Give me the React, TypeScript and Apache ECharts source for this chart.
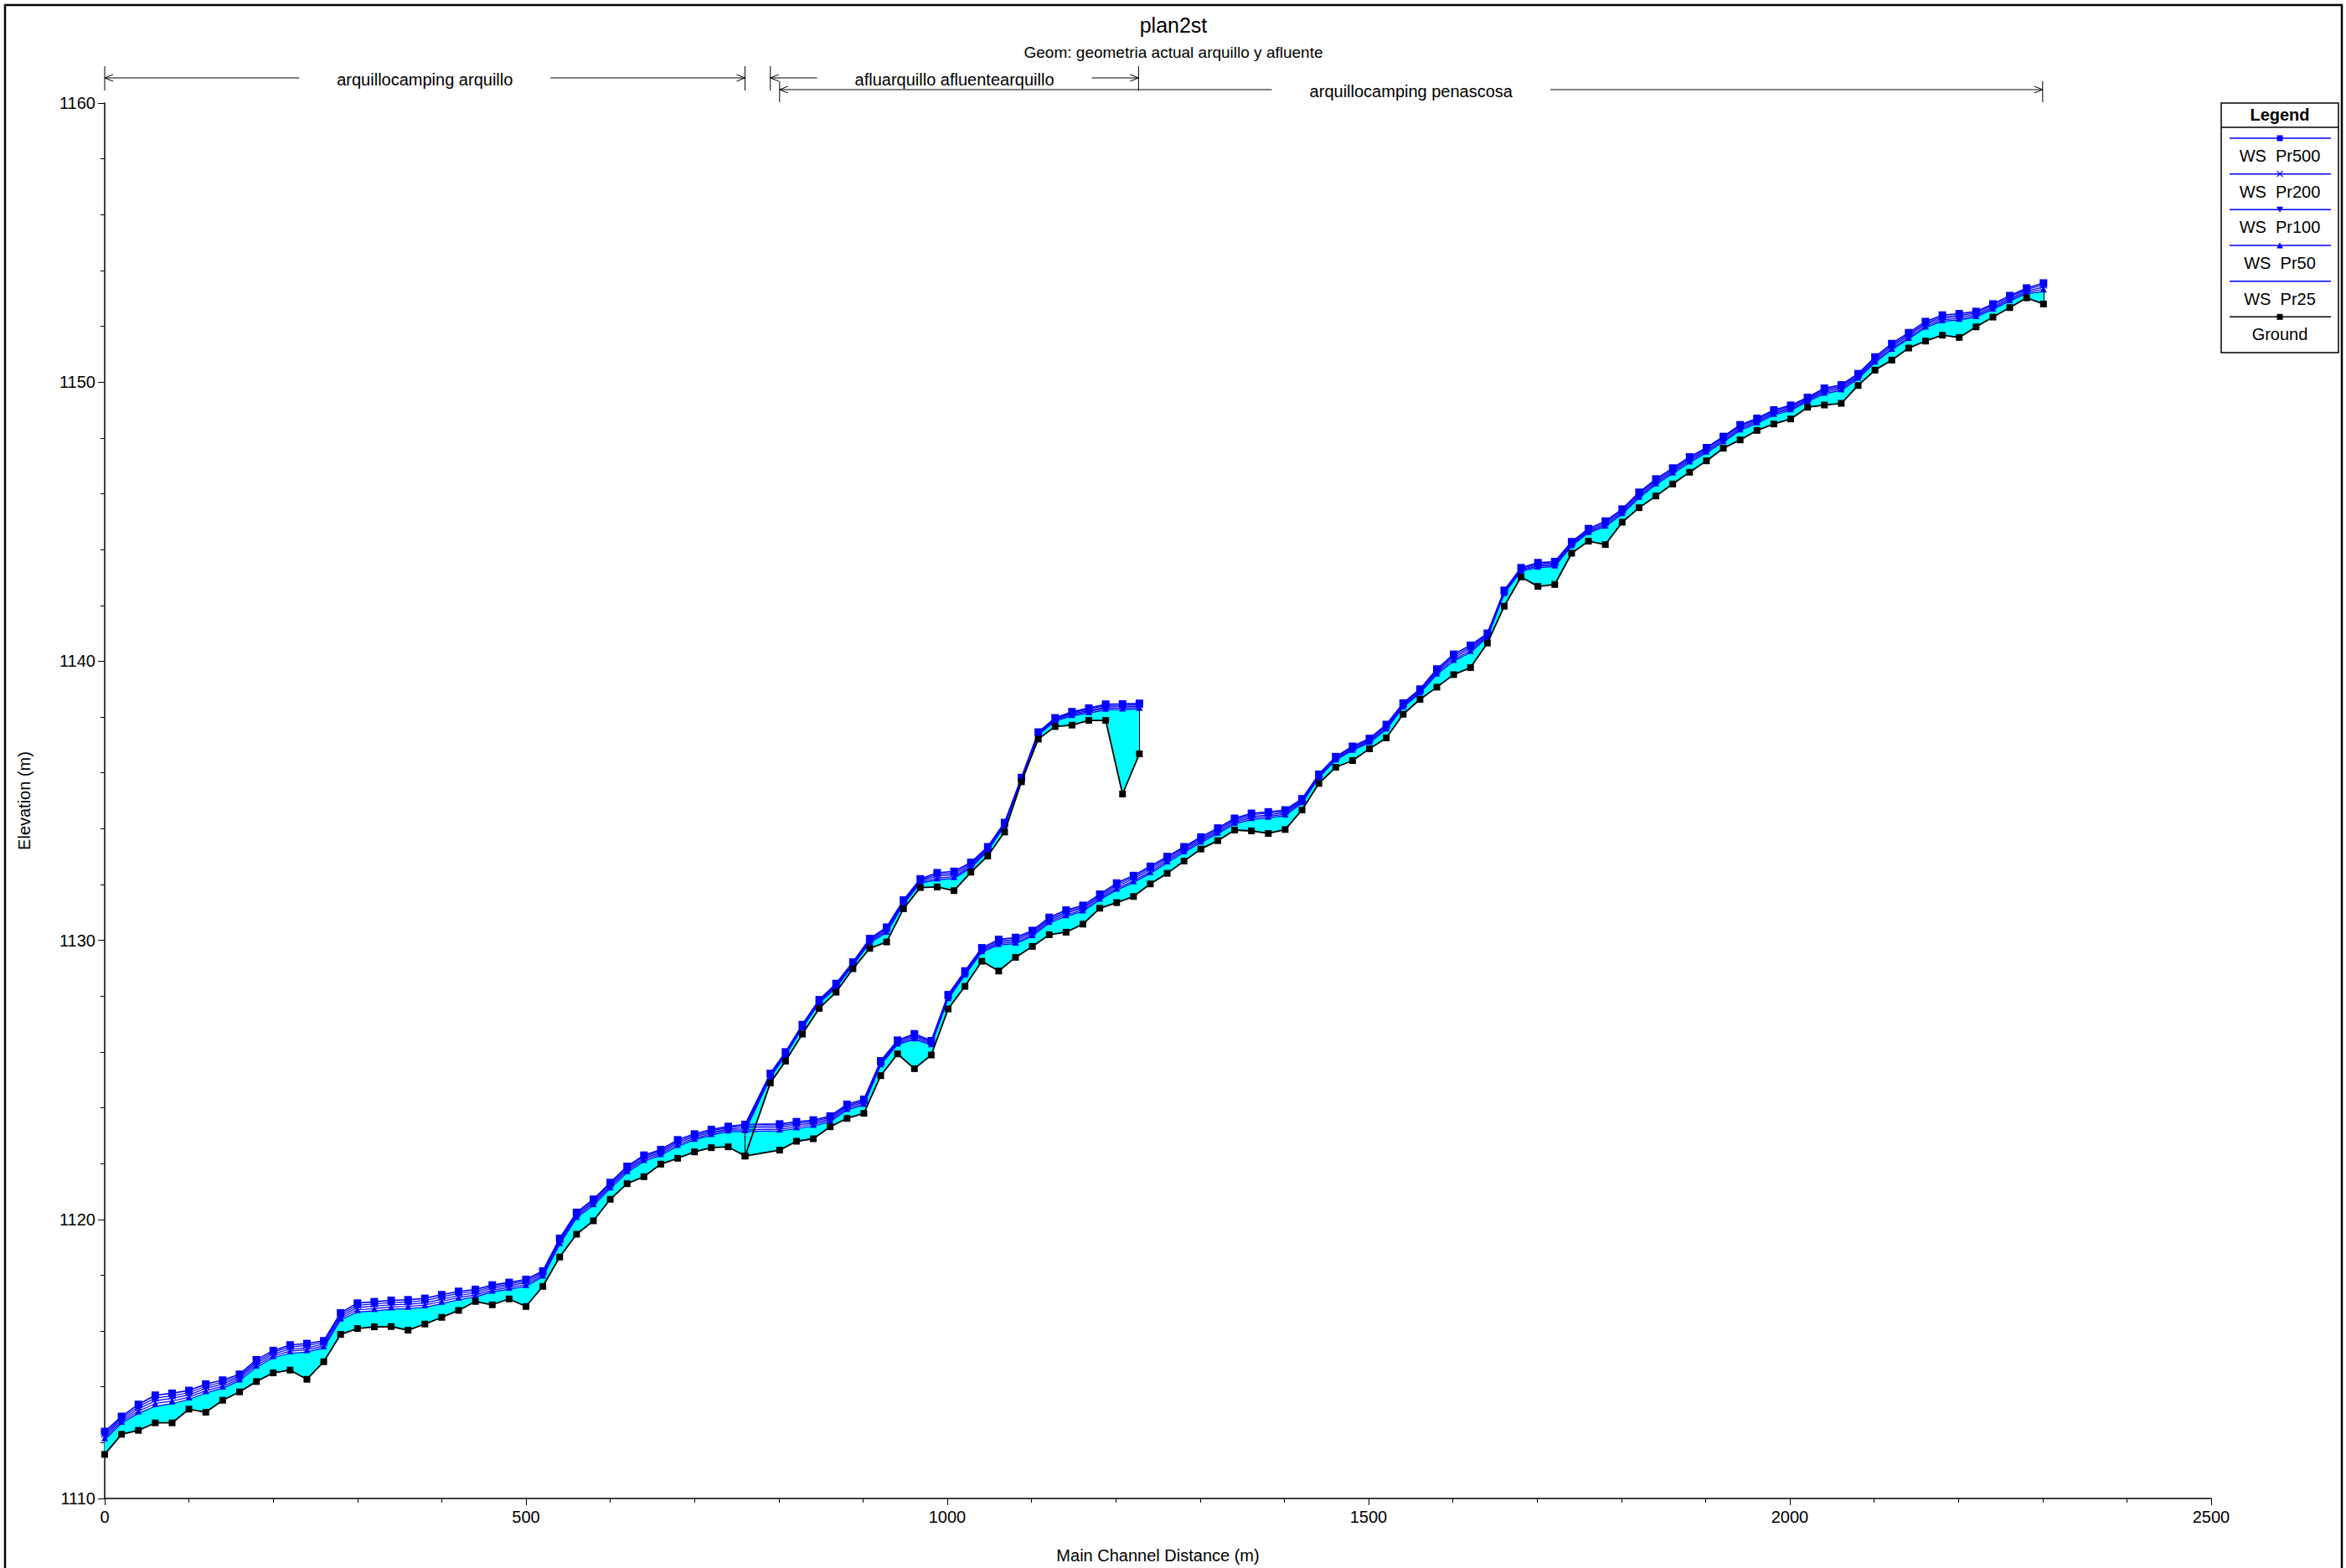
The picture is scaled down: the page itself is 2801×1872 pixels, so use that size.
import React, { useEffect, useRef } from 'react';
import * as echarts from 'echarts';

// ---------- data ----------
const mainStations = [0,20,40,60,80,100,120,140,160,180,200,220,240,260,280,300,320,340,360,380,400,420,440,460,480,500,520,540,560,580,600,620,640,660,680,700,720,740,760,
  801,821,841,861,881,901,921,941,961,981,1001,1021,1041,1061,1081,1101,1121,1141,1161,1181,1201,1221,1241,1261,1281,1301,1321,1341,1361,1381,1401,1421,1441,1461,1481,1501,1521,1541,1561,1581,1601,1621,1641,1661,1681,1701,1721,1741,1761,1781,1801,1821,1841,1861,1881,1901,1921,1941,1961,1981,2001,2021,2041,2061,2081,2101,2121,2141,2161,2181,2201,2221,2241,2261,2281,2301];

const mainGround = [1111.58,1112.30,1112.44,1112.71,1112.71,1113.20,1113.09,1113.52,1113.82,1114.19,1114.50,1114.60,1114.27,1114.90,1115.88,1116.09,1116.15,1116.16,1116.03,1116.25,1116.49,1116.74,1117.06,1116.94,1117.15,1116.88,1117.60,1118.65,1119.47,1119.95,1120.72,1121.28,1121.53,1121.98,1122.19,1122.42,1122.57,1122.60,1122.27,
  1122.48,1122.80,1122.89,1123.32,1123.62,1123.80,1125.15,1125.93,1125.40,1125.89,1127.54,1128.35,1129.25,1128.90,1129.39,1129.78,1130.20,1130.29,1130.58,1131.15,1131.35,1131.57,1132.02,1132.40,1132.84,1133.27,1133.57,1133.95,1133.92,1133.83,1133.97,1134.67,1135.62,1136.20,1136.44,1136.86,1137.25,1138.10,1138.63,1139.07,1139.52,1139.77,1140.65,1141.97,1143.02,1142.68,1142.75,1143.87,1144.30,1144.18,1144.98,1145.50,1145.92,1146.35,1146.77,1147.18,1147.63,1147.93,1148.27,1148.50,1148.68,1149.10,1149.18,1149.24,1149.88,1150.43,1150.79,1151.22,1151.47,1151.68,1151.60,1151.98,1152.33,1152.67,1153.02,1152.80];

const mainPr500 = [1112.40,1112.94,1113.37,1113.70,1113.77,1113.87,1114.10,1114.24,1114.45,1114.97,1115.30,1115.50,1115.55,1115.65,1116.65,1117.00,1117.05,1117.10,1117.12,1117.17,1117.30,1117.42,1117.49,1117.65,1117.74,1117.85,1118.15,1119.32,1120.25,1120.72,1121.32,1121.90,1122.30,1122.50,1122.85,1123.06,1123.22,1123.33,1123.40,
  1123.42,1123.50,1123.56,1123.70,1124.12,1124.30,1125.68,1126.42,1126.65,1126.40,1128.05,1128.90,1129.73,1130.03,1130.10,1130.35,1130.82,1131.08,1131.25,1131.65,1132.05,1132.32,1132.65,1133.00,1133.35,1133.70,1134.02,1134.37,1134.55,1134.60,1134.67,1135.07,1135.95,1136.58,1136.95,1137.23,1137.73,1138.50,1139.00,1139.72,1140.25,1140.57,1141.00,1142.54,1143.35,1143.53,1143.57,1144.28,1144.75,1145.02,1145.45,1146.05,1146.53,1146.92,1147.32,1147.65,1148.05,1148.47,1148.70,1149.00,1149.17,1149.45,1149.78,1149.90,1150.30,1150.90,1151.38,1151.77,1152.17,1152.40,1152.45,1152.53,1152.80,1153.10,1153.37,1153.55];

const mainPr200 = [1112.32,1112.88,1113.29,1113.60,1113.68,1113.79,1114.02,1114.17,1114.39,1114.90,1115.24,1115.43,1115.48,1115.59,1116.59,1116.92,1116.97,1117.02,1117.04,1117.09,1117.22,1117.35,1117.42,1117.59,1117.68,1117.79,1118.10,1119.27,1120.20,1120.67,1121.27,1121.85,1122.25,1122.45,1122.79,1123.01,1123.17,1123.29,1123.34,
  1123.36,1123.44,1123.51,1123.65,1124.07,1124.25,1125.64,1126.38,1126.60,1126.36,1128.01,1128.86,1129.69,1129.98,1130.04,1130.30,1130.77,1131.02,1131.19,1131.60,1131.99,1132.26,1132.59,1132.95,1133.30,1133.65,1133.97,1134.32,1134.50,1134.55,1134.62,1135.03,1135.92,1136.55,1136.91,1137.19,1137.69,1138.46,1138.96,1139.67,1140.19,1140.51,1140.96,1142.51,1143.32,1143.49,1143.53,1144.24,1144.71,1144.97,1145.41,1146.00,1146.48,1146.87,1147.27,1147.61,1148.00,1148.42,1148.66,1148.96,1149.13,1149.41,1149.73,1149.85,1150.26,1150.85,1151.32,1151.71,1152.11,1152.34,1152.39,1152.48,1152.75,1153.05,1153.32,1153.48];

const mainPr100 = [1112.25,1112.82,1113.21,1113.50,1113.59,1113.71,1113.94,1114.10,1114.34,1114.84,1115.18,1115.35,1115.40,1115.53,1116.53,1116.84,1116.89,1116.94,1116.96,1117.01,1117.14,1117.27,1117.36,1117.53,1117.62,1117.73,1118.05,1119.21,1120.15,1120.61,1121.21,1121.79,1122.19,1122.40,1122.74,1122.96,1123.12,1123.24,1123.28,
  1123.30,1123.38,1123.45,1123.60,1124.02,1124.20,1125.60,1126.34,1126.55,1126.32,1127.97,1128.82,1129.65,1129.93,1129.99,1130.25,1130.72,1130.97,1131.14,1131.55,1131.93,1132.20,1132.53,1132.89,1133.25,1133.60,1133.92,1134.27,1134.44,1134.49,1134.57,1134.99,1135.89,1136.52,1136.87,1137.15,1137.64,1138.42,1138.92,1139.62,1140.13,1140.45,1140.92,1142.48,1143.29,1143.44,1143.48,1144.20,1144.67,1144.92,1145.36,1145.95,1146.43,1146.82,1147.22,1147.56,1147.95,1148.37,1148.61,1148.91,1149.08,1149.37,1149.68,1149.80,1150.21,1150.80,1151.27,1151.66,1152.06,1152.29,1152.34,1152.43,1152.70,1153.00,1153.27,1153.40];

const mainPr50 = [1112.17,1112.76,1113.13,1113.40,1113.49,1113.63,1113.86,1114.02,1114.28,1114.77,1115.11,1115.28,1115.33,1115.46,1116.46,1116.76,1116.80,1116.86,1116.88,1116.93,1117.06,1117.20,1117.29,1117.46,1117.56,1117.66,1118.00,1119.16,1120.10,1120.56,1121.16,1121.74,1122.14,1122.35,1122.68,1122.90,1123.07,1123.20,1123.21,
  1123.23,1123.31,1123.40,1123.55,1123.97,1124.15,1125.57,1126.31,1126.50,1126.29,1127.94,1128.79,1129.62,1129.88,1129.93,1130.20,1130.67,1130.91,1131.08,1131.50,1131.86,1132.13,1132.46,1132.84,1133.20,1133.55,1133.87,1134.22,1134.39,1134.44,1134.52,1134.96,1135.86,1136.49,1136.84,1137.12,1137.60,1138.39,1138.89,1139.57,1140.06,1140.38,1140.89,1142.45,1143.26,1143.40,1143.44,1144.17,1144.64,1144.87,1145.32,1145.90,1146.38,1146.77,1147.17,1147.52,1147.90,1148.32,1148.57,1148.87,1149.04,1149.34,1149.63,1149.75,1150.17,1150.75,1151.21,1151.60,1152.00,1152.23,1152.28,1152.38,1152.65,1152.95,1153.22,1153.33];

const mainPr25 = [1112.10,1112.70,1113.05,1113.30,1113.40,1113.55,1113.78,1113.95,1114.22,1114.70,1115.05,1115.20,1115.25,1115.40,1116.40,1116.68,1116.72,1116.78,1116.80,1116.85,1116.98,1117.12,1117.22,1117.40,1117.50,1117.60,1117.95,1119.10,1120.05,1120.50,1121.10,1121.68,1122.08,1122.30,1122.62,1122.85,1123.02,1123.15,1123.15,
  1123.17,1123.25,1123.34,1123.50,1123.92,1124.10,1125.53,1126.27,1126.45,1126.25,1127.90,1128.75,1129.58,1129.83,1129.88,1130.15,1130.62,1130.86,1131.03,1131.45,1131.80,1132.07,1132.40,1132.78,1133.15,1133.50,1133.82,1134.17,1134.33,1134.38,1134.47,1134.92,1135.83,1136.46,1136.80,1137.08,1137.55,1138.35,1138.85,1139.52,1140.00,1140.32,1140.85,1142.42,1143.23,1143.35,1143.39,1144.13,1144.60,1144.82,1145.27,1145.85,1146.33,1146.72,1147.12,1147.47,1147.85,1148.27,1148.52,1148.82,1148.99,1149.30,1149.58,1149.70,1150.12,1150.70,1151.16,1151.55,1151.95,1152.18,1152.23,1152.33,1152.60,1152.90,1153.17,1153.25];

const tribStations = [760,790,808,828,848,868,888,908,928,948,968,988,1008,1028,1048,1068,1088,1108,1128,1148,1168,1188,1208,1228];
const tribGround = [1122.27,1124.89,1125.67,1126.64,1127.56,1128.14,1128.98,1129.71,1129.94,1131.13,1131.89,1131.91,1131.78,1132.44,1133.02,1133.88,1135.68,1137.21,1137.66,1137.71,1137.88,1137.88,1135.24,1136.68];
const tribPr500 = [1123.40,1125.23,1126.00,1126.98,1127.87,1128.45,1129.22,1130.06,1130.47,1131.44,1132.20,1132.42,1132.47,1132.79,1133.35,1134.22,1135.83,1137.46,1137.97,1138.19,1138.32,1138.46,1138.47,1138.49];
const tribPr200 = [1123.34,1125.19,1125.97,1126.95,1127.84,1128.41,1129.19,1130.02,1130.42,1131.40,1132.16,1132.36,1132.41,1132.74,1133.31,1134.19,1135.81,1137.44,1137.94,1138.15,1138.28,1138.41,1138.42,1138.44];
const tribPr100 = [1123.28,1125.16,1125.94,1126.92,1127.81,1128.38,1129.16,1129.99,1130.37,1131.37,1132.13,1132.30,1132.35,1132.69,1133.28,1134.16,1135.79,1137.41,1137.91,1138.12,1138.23,1138.36,1138.37,1138.39];
const tribPr50 = [1123.21,1125.12,1125.91,1126.89,1127.78,1128.34,1129.13,1129.95,1130.32,1131.33,1132.09,1132.23,1132.28,1132.64,1133.24,1134.13,1135.77,1137.39,1137.88,1138.08,1138.19,1138.31,1138.32,1138.34];
const tribPr25 = [1123.15,1125.08,1125.88,1126.86,1127.75,1128.30,1129.10,1129.91,1130.27,1131.29,1132.05,1132.17,1132.22,1132.59,1133.20,1134.10,1135.75,1137.36,1137.85,1138.04,1138.14,1138.26,1138.27,1138.29];

const reachNames = ['arquillocamping arquillo', 'afluarquillo afluentearquillo', 'arquillocamping penascosa'];
const reachStart = [0, 790, 801];
const reachEnd = [760, 1227, 2300];
const reachRow = [0, 0, 1];

const xTicks = { min: 0, max: 2500, interval: 500 };
const yTicks = { min: 1110, max: 1160, interval: 10 };

const titleText = 'plan2st';
const subtitleText = 'Geom: geometria actual arquillo y afluente';
const xAxisTitle = 'Main Channel Distance (m)';
const yAxisTitle = 'Elevation (m)';

// ---------- styling ----------
const FONT = '"Liberation Sans", Arial, Helvetica, sans-serif';
const BLUE = '#0000ff';
const CYAN = '#00ffff';
const XPATH = 'path://M0,0L10,10M10,0L0,10';

const wsDefs = [
  { name: 'WS  Pr25', main: mainPr25, trib: tribPr25, symbol: 'none', rotate: 0 },
  { name: 'WS  Pr50', main: mainPr50, trib: tribPr50, symbol: 'triangle', rotate: 0 },
  { name: 'WS  Pr100', main: mainPr100, trib: tribPr100, symbol: 'triangle', rotate: 180 },
  { name: 'WS  Pr200', main: mainPr200, trib: tribPr200, symbol: XPATH, rotate: 0 },
  { name: 'WS  Pr500', main: mainPr500, trib: tribPr500, symbol: 'rect', rotate: 0 },
];

const reaches = [
  { xs: mainStations, g: mainGround, w: mainPr25 },
  { xs: tribStations, g: tribGround, w: tribPr25 },
];

export default function App() {
  const ref = useRef<HTMLDivElement>(null);

  useEffect(() => {
    document.body.style.margin = '0';
    const chart = echarts.init(ref.current!, null, { renderer: 'svg' });
    const pairs = (xs: number[], ys: number[]) => xs.map((x, i) => [x, ys[i]]);

    const iJ = mainStations.indexOf(760);
    const iEnd = mainStations.length - 1;
    const tEnd = tribStations.length - 1;

    const series: any[] = [];
    // water fill between ground and the lowest water surface
    series.push({
      name: 'water', type: 'custom', z: 1, clip: false, silent: true,
      data: reaches.map((r) => [r.xs[0], r.g[0]]),
      renderItem: (params: any, api: any) => {
        const r = reaches[params.dataIndex];
        const pts: number[][] = [];
        for (let i = 0; i < r.xs.length; i++) pts.push(api.coord([r.xs[i], r.w[i]]));
        for (let i = r.xs.length - 1; i >= 0; i--) pts.push(api.coord([r.xs[i], r.g[i]]));
        return { type: 'polygon', shape: { points: pts }, style: { fill: CYAN, stroke: CYAN, lineWidth: 0.5 } };
      },
    });
    reaches.forEach((r) => {
      series.push({
        name: 'Ground', type: 'line', data: pairs(r.xs, r.g),
        symbol: 'rect', symbolSize: 8, showSymbol: true,
        lineStyle: { color: '#000', width: 1.8 }, itemStyle: { color: '#000' }, z: 8,
      });
    });
    wsDefs.forEach((d, j) => {
      [
        { xs: mainStations, v: d.main },
        { xs: tribStations, v: d.trib },
      ].forEach((r, k) => {
        const isX = d.symbol === XPATH;
        const s: any = {
          name: d.name, type: 'line', data: pairs(r.xs, r.v),
          symbol: d.symbol, symbolRotate: d.rotate, symbolSize: d.symbol === 'rect' ? 9 : 8,
          showSymbol: d.symbol !== 'none',
          lineStyle: { color: BLUE, width: d.symbol === 'rect' ? 1.6 : 1.2 },
          itemStyle: isX ? { color: 'none', borderColor: BLUE, borderWidth: 1.4 } : { color: BLUE },
          z: 3 + j,
        };
        if (d.name === 'WS  Pr500') {
          const lines = k === 0
            ? [[{ coord: [mainStations[iJ], mainGround[iJ]] }, { coord: [mainStations[iJ], mainPr500[iJ]] }],
               [{ coord: [mainStations[iEnd], mainGround[iEnd]] }, { coord: [mainStations[iEnd], mainPr500[iEnd]] }]]
            : [[{ coord: [tribStations[tEnd], tribGround[tEnd]] }, { coord: [tribStations[tEnd], tribPr500[tEnd]] }]];
          s.markLine = {
            silent: true, symbol: ['none', 'none'], label: { show: false },
            lineStyle: { color: '#000', width: 1, type: 'solid' }, data: lines,
          };
        }
        series.push(s);
      });
    });

    const axisCommon = {
      axisLine: { show: true, onZero: false, lineStyle: { color: '#000', width: 1.5 } },
      axisTick: { show: true, length: 8, lineStyle: { color: '#000', width: 1 } },
      minorTick: { show: true, splitNumber: 5, length: 5, lineStyle: { color: '#000', width: 1 } },
      splitLine: { show: false },
      minorSplitLine: { show: false },
      nameLocation: 'middle',
      nameTextStyle: { fontFamily: FONT, fontSize: 20, color: '#000' },
    };
    const plain = (v: number) => String(v);

    chart.setOption({
      animation: false,
      backgroundColor: '#fff',
      grid: { left: 125, right: 161, top: 123, bottom: 82, containLabel: false },
      xAxis: {
        type: 'value', ...xTicks, ...axisCommon,
        name: xAxisTitle, nameGap: 58,
        axisLabel: { fontFamily: FONT, fontSize: 20, color: '#000', margin: 12, formatter: plain },
      },
      yAxis: {
        type: 'value', ...yTicks, ...axisCommon,
        name: yAxisTitle, nameGap: 86,
        axisLabel: { fontFamily: FONT, fontSize: 20, color: '#000', margin: 11, formatter: plain },
      },
      series,
    });

    // ---------- annotations ----------
    const ctx = document.createElement('canvas').getContext('2d')!;
    ctx.font = '20px "Liberation Sans"';
    const px = (v: number) => (chart.convertToPixel({ gridIndex: 0 } as any, [v, yTicks.max]) as number[])[0];
    const g: any[] = [];
    const line = (x1: number, y1: number, x2: number, y2: number, color = '#000', w = 1) =>
      g.push({ type: 'line', shape: { x1, y1, x2, y2 }, style: { stroke: color, lineWidth: w }, silent: true });
    const text = (t: string, x: number, y: number, font: string) =>
      g.push({ type: 'text', x, y, silent: true, style: { text: t, font, fill: '#000', textAlign: 'center', textVerticalAlign: 'middle' } });

    g.push({ type: 'rect', shape: { x: 6, y: 6, width: 2790, height: 1900 }, style: { fill: 'none', stroke: '#000', lineWidth: 2.5 }, silent: true });
    text(titleText, 1401, 30, `25px ${FONT}`);
    text(subtitleText, 1401, 62, `19px ${FONT}`);

    reachNames.forEach((nm, r) => {
      const x1 = px(reachStart[r]);
      const x2 = px(reachEnd[r]);
      const y = reachRow[r] === 0 ? 93 : 107;
      const b1 = reachRow[r] === 0 ? 79 : 97;
      const b2 = reachRow[r] === 0 ? 108 : 122;
      const tw = ctx.measureText(nm).width;
      const cx = (x1 + x2) / 2;
      line(x1, b1, x1, b2);
      line(x2, b1, x2, b2);
      line(x1, y, cx - tw / 2 - 45, y);
      line(cx + tw / 2 + 45, y, x2, y);
      g.push({ type: 'polyline', shape: { points: [[x1 + 10, y - 4], [x1, y], [x1 + 10, y + 4]] }, style: { stroke: '#000', fill: 'none', lineWidth: 1 }, silent: true });
      g.push({ type: 'polyline', shape: { points: [[x2 - 10, y - 4], [x2, y], [x2 - 10, y + 4]] }, style: { stroke: '#000', fill: 'none', lineWidth: 1 }, silent: true });
      text(nm, cx, y + 2, `20px ${FONT}`);
    });

    const LX = 2652, LW = 140, LT = 123, LH = 298, LC = LX + LW / 2;
    g.push({ type: 'rect', shape: { x: LX, y: LT, width: LW, height: LH }, style: { fill: '#fff', stroke: '#000', lineWidth: 1.5 }, silent: true });
    line(LX, 152, LX + LW, 152, '#000', 1.5);
    text('Legend', LC, 137, `bold 20px ${FONT}`);
    const legendItems = [...wsDefs].reverse().map((d) => ({ name: d.name, symbol: d.symbol, rotate: d.rotate, color: BLUE }))
      .concat([{ name: 'Ground', symbol: 'rect', rotate: 0, color: '#000' }]);
    legendItems.forEach((it, i) => {
      const ly = 165 + i * 42.67;
      line(LX + 10, ly, LX + LW - 9, ly, it.color, 1.5);
      if (it.symbol === 'rect') {
        g.push({ type: 'rect', shape: { x: LC - 3.5, y: ly - 3.5, width: 7, height: 7 }, style: { fill: it.color }, silent: true });
      } else if (it.symbol === XPATH) {
        line(LC - 3.5, ly - 3.5, LC + 3.5, ly + 3.5, it.color, 1.2);
        line(LC + 3.5, ly - 3.5, LC - 3.5, ly + 3.5, it.color, 1.2);
      } else if (it.symbol === 'triangle') {
        const pts = it.rotate === 180
          ? [[LC - 4, ly - 3.5], [LC + 4, ly - 3.5], [LC, ly + 3.5]]
          : [[LC - 4, ly + 3.5], [LC + 4, ly + 3.5], [LC, ly - 3.5]];
        g.push({ type: 'polygon', shape: { points: pts }, style: { fill: it.color }, silent: true });
      }
      text(it.name, LC, ly + 21, `20px ${FONT}`);
    });

    chart.setOption({ graphic: { elements: g } });

    return () => chart.dispose();
  }, []);

  return <div ref={ref} style={{ width: 2801, height: 1872 }} />;
}
